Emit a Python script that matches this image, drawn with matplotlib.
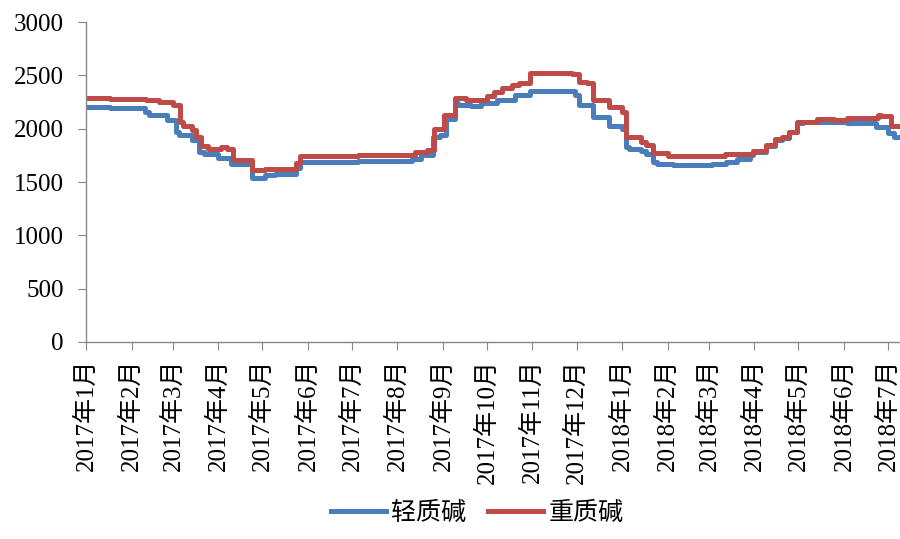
import numpy as np
import pandas as pd
import matplotlib
matplotlib.use("Agg")
import matplotlib.pyplot as plt
import matplotlib.dates as mdates
from matplotlib.ticker import FuncFormatter

plt.rcParams['font.family'] = ['Liberation Serif', 'Noto Sans CJK SC']

# 轻质碱 price steps (date the price takes effect, value)
light_dates = ['2017-01-01', '2017-01-17', '2017-02-10', '2017-02-13', '2017-02-25',
               '2017-03-03', '2017-03-05', '2017-03-14', '2017-03-19', '2017-03-22',
               '2017-04-01', '2017-04-10', '2017-04-24', '2017-05-03', '2017-05-10',
               '2017-05-24', '2017-05-27', '2017-07-05', '2017-08-11', '2017-08-17',
               '2017-08-25', '2017-08-30', '2017-09-03', '2017-09-09', '2017-09-11',
               '2017-09-20', '2017-09-27', '2017-10-08', '2017-10-20', '2017-10-30',
               '2017-11-30', '2017-12-03', '2017-12-12', '2017-12-23', '2018-01-01',
               '2018-01-04', '2018-01-06', '2018-01-14', '2018-01-17', '2018-01-22',
               '2018-01-25', '2018-02-05', '2018-03-03', '2018-03-13', '2018-03-20',
               '2018-03-29', '2018-03-31', '2018-04-09', '2018-04-15', '2018-04-20',
               '2018-04-25', '2018-04-30', '2018-05-04', '2018-06-03', '2018-06-23',
               '2018-07-01', '2018-07-05', '2018-07-09']
light_vals = [2200, 2190, 2160, 2130, 2080,
              1970, 1940, 1890, 1780, 1760,
              1725, 1670, 1540, 1565, 1580,
              1630, 1690, 1700, 1720, 1750,
              1920, 1940, 2090, 2240, 2220,
              2210, 2240, 2270, 2320, 2350,
              2315, 2220, 2110, 2030, 2000,
              1830, 1810, 1790, 1760, 1690,
              1670, 1660, 1670, 1690, 1720,
              1750, 1780, 1840, 1890, 1910,
              1965, 2050, 2060, 2050, 2020,
              1960, 1920, 1920]

# 重质碱 price steps
heavy_dates = ['2017-01-01', '2017-01-17', '2017-02-11', '2017-02-20', '2017-03-01',
               '2017-03-06', '2017-03-08', '2017-03-14', '2017-03-17', '2017-03-20',
               '2017-03-25', '2017-04-03', '2017-04-07', '2017-04-11', '2017-04-24',
               '2017-05-03', '2017-05-24', '2017-05-27', '2017-07-05', '2017-08-13',
               '2017-08-21', '2017-08-26', '2017-09-02', '2017-09-09', '2017-09-17',
               '2017-10-01', '2017-10-06', '2017-10-11', '2017-10-18', '2017-10-23',
               '2017-10-30', '2017-11-28', '2017-12-03', '2017-12-08', '2017-12-12',
               '2017-12-23', '2018-01-01', '2018-01-04', '2018-01-14', '2018-01-17',
               '2018-01-22', '2018-02-01', '2018-02-04', '2018-03-12', '2018-03-31',
               '2018-04-09', '2018-04-15', '2018-04-20', '2018-04-25', '2018-04-30',
               '2018-05-14', '2018-05-25', '2018-06-03', '2018-06-24', '2018-06-26',
               '2018-07-03', '2018-07-09']
heavy_vals = [2290, 2275, 2265, 2250, 2220,
              2060, 2030, 1990, 1920, 1840,
              1810, 1830, 1810, 1710, 1610,
              1620, 1680, 1740, 1755, 1780,
              1800, 2000, 2130, 2290, 2270,
              2310, 2340, 2380, 2410, 2430,
              2520, 2510, 2440, 2425, 2270,
              2200, 2160, 1920, 1880, 1850,
              1770, 1740, 1745, 1760, 1790,
              1845, 1900, 1920, 1970, 2060,
              2090, 2080, 2100, 2130, 2115,
              2030, 2030]

month_ticks = pd.date_range('2017-01-01', '2018-07-01', freq='MS')

fig = plt.figure(figsize=(9, 5.39), dpi=100)
ax = fig.add_axes([0.0956, 0.3655, 0.904, 0.5935])

ax.plot(pd.to_datetime(light_dates), light_vals, drawstyle='steps-post',
        color='#4a7ebb', lw=3.6, solid_joinstyle='round', label='轻质碱')
ax.plot(pd.to_datetime(heavy_dates), heavy_vals, drawstyle='steps-post',
        color='#be4b48', lw=3.6, solid_joinstyle='round', label='重质碱')

ax.set_ylim(0, 3000)
ax.set_yticks(np.arange(0, 3001, 500))
ax.set_xlim(pd.Timestamp('2017-01-01'), pd.Timestamp('2018-07-09'))
ax.set_xticks(month_ticks)
ax.xaxis.set_major_formatter(FuncFormatter(
    lambda v, p: '{}年{}月'.format(mdates.num2date(v).year, mdates.num2date(v).month)))

for s in ['top', 'right']:
    ax.spines[s].set_visible(False)
for s in ['left', 'bottom']:
    ax.spines[s].set_color('#868686')
    ax.spines[s].set_linewidth(1)

ax.tick_params(axis='y', colors='#868686', labelcolor='black', length=6,
               labelsize=18, pad=10)
ax.tick_params(axis='x', colors='#868686', labelcolor='black', length=6,
               labelsize=18, pad=6, labelrotation=90)

fig.legend(loc='lower center', bbox_to_anchor=(0.53, -0.015), ncol=2,
           frameon=False, fontsize=18, handlelength=2.2, handletextpad=0.2,
           columnspacing=0.9)

fig.savefig('out.png', dpi=100)
